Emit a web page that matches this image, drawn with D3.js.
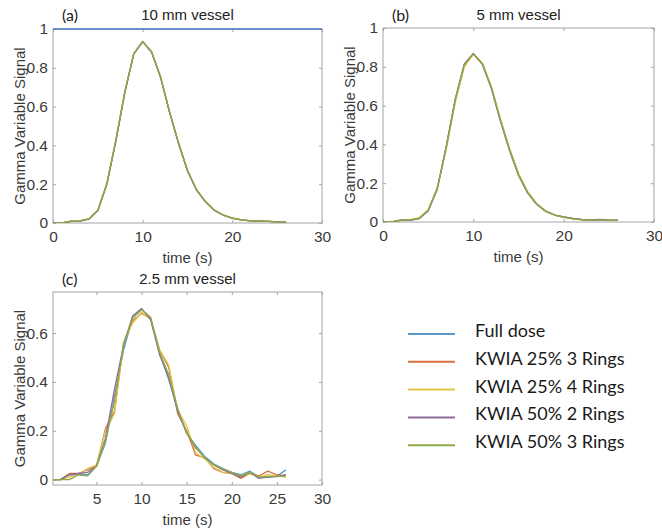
<!DOCTYPE html>
<html>
<head>
<meta charset="utf-8">
<script src="https://cdn.jsdelivr.net/npm/d3@7"></script>
<style>
  body { margin: 0; background: #fff; }
  svg { display: block; }
</style>
</head>
<body>
<div id="chart"></div>
<script>
// Gamma variate curves for three vessel sizes, five reconstructions each

const time = [0,1,2,3,4,5,6,7,8,9,10,11,12,13,14,15,16,17,18,19,20,21,22,23,24,25,26];

const seriesNames = ["Full dose", "KWIA 25% 3 Rings", "KWIA 25% 4 Rings", "KWIA 50% 2 Rings", "KWIA 50% 3 Rings"];
const seriesColors = ["#5a9bc9", "#d8723c", "#e4c346", "#8a6b9c", "#8bab48"];

// (a) 10 mm vessel
const fullA  = [0,0,0.008,0.010,0.020,0.063,0.198,0.420,0.672,0.872,0.936,0.880,0.750,0.572,0.410,0.270,0.170,0.110,0.065,0.040,0.025,0.016,0.011,0.009,0.008,0.006,0.005];
const k25r3A = [0,0,0.009,0.011,0.021,0.064,0.200,0.422,0.670,0.870,0.934,0.881,0.752,0.570,0.412,0.268,0.171,0.109,0.066,0.041,0.024,0.016,0.012,0.010,0.008,0.006,0.005];
const k25r4A = [0,0,0.010,0.012,0.022,0.066,0.204,0.428,0.676,0.874,0.935,0.882,0.754,0.575,0.414,0.272,0.173,0.111,0.066,0.041,0.026,0.017,0.012,0.010,0.009,0.007,0.006];
const k50r2A = [0,0,0.008,0.010,0.020,0.064,0.199,0.421,0.671,0.871,0.935,0.880,0.751,0.571,0.411,0.269,0.170,0.110,0.065,0.040,0.025,0.016,0.011,0.009,0.008,0.006,0.005];
const k50r3A = [0,0,0.009,0.011,0.021,0.065,0.202,0.424,0.673,0.872,0.936,0.881,0.752,0.573,0.412,0.271,0.172,0.110,0.066,0.040,0.025,0.016,0.011,0.010,0.008,0.006,0.005];

// (b) 5 mm vessel
const fullB  = [0,0,0.010,0.009,0.018,0.058,0.168,0.385,0.630,0.812,0.868,0.815,0.690,0.522,0.372,0.242,0.152,0.092,0.056,0.036,0.026,0.018,0.012,0.010,0.012,0.008,0.009];
const k25r3B = [0,0,0.008,0.011,0.020,0.061,0.172,0.380,0.622,0.805,0.866,0.818,0.695,0.528,0.378,0.247,0.155,0.094,0.057,0.035,0.024,0.017,0.013,0.011,0.009,0.010,0.008];
const k25r4B = [0,0,0.009,0.012,0.022,0.063,0.176,0.375,0.618,0.800,0.864,0.820,0.698,0.532,0.380,0.250,0.158,0.096,0.058,0.037,0.025,0.016,0.011,0.010,0.008,0.009,0.007];
const k50r2B = [0,0,0.010,0.010,0.017,0.057,0.170,0.390,0.635,0.815,0.869,0.812,0.688,0.520,0.370,0.240,0.150,0.091,0.055,0.036,0.026,0.018,0.012,0.011,0.013,0.009,0.009];
const k50r3B = [0,0,0.011,0.010,0.019,0.059,0.169,0.388,0.632,0.810,0.867,0.814,0.691,0.524,0.374,0.244,0.153,0.093,0.056,0.036,0.025,0.017,0.012,0.010,0.011,0.008,0.008];

// (c) 2.5 mm vessel
const fullC  = [0,0,0.020,0.020,0.020,0.055,0.150,0.340,0.530,0.660,0.700,0.660,0.520,0.410,0.290,0.190,0.140,0.095,0.065,0.045,0.030,0.020,0.035,0.010,0.010,0.015,0.040];
const k25r3C = [0,0,0.025,0.025,0.040,0.055,0.210,0.280,0.560,0.650,0.680,0.660,0.530,0.460,0.270,0.200,0.100,0.090,0.045,0.030,0.025,0.005,0.025,0.015,0.035,0.020,0.015];
const k25r4C = [0,0,0.010,0.020,0.045,0.060,0.200,0.270,0.560,0.640,0.685,0.655,0.530,0.470,0.285,0.220,0.110,0.085,0.050,0.030,0.025,0.015,0.025,0.010,0.020,0.015,0.010];
const k50r2C = [0,0,0.020,0.025,0.030,0.055,0.170,0.370,0.550,0.670,0.700,0.655,0.510,0.420,0.280,0.190,0.130,0.090,0.060,0.040,0.025,0.010,0.030,0.005,0.010,0.012,0.020];
const k50r3C = [0,0,0.000,0.020,0.015,0.055,0.160,0.320,0.550,0.660,0.695,0.665,0.520,0.430,0.290,0.190,0.135,0.090,0.060,0.045,0.030,0.015,0.030,0.010,0.012,0.014,0.014];

const xTicksAB = [0, 10, 20, 30];
const xTicksC = [5, 10, 15, 20, 25, 30];
const yTicksAB = [0, 0.2, 0.4, 0.6, 0.8, 1];
const yTicksC = [0, 0.2, 0.4, 0.6];

const panels = [
  { tag: "(a)", title: "10 mm vessel", series: [fullA, k25r3A, k25r4A, k50r2A, k50r3A],
    left: 53, right: 322, top: 29, bottom: 223, xDomain: [0, 30], yDomain: [0, 1],
    xTicks: xTicksAB, yTicks: yTicksAB, titleY: 20, topRule: true },
  { tag: "(b)", title: "5 mm vessel", series: [fullB, k25r3B, k25r4B, k50r2B, k50r3B],
    left: 383, right: 654, top: 28, bottom: 222, xDomain: [0, 30], yDomain: [0, 1],
    xTicks: xTicksAB, yTicks: yTicksAB, titleY: 20, topRule: false },
  { tag: "(c)", title: "2.5 mm vessel", series: [fullC, k25r3C, k25r4C, k50r2C, k50r3C],
    left: 53, right: 322, top: 292, bottom: 485, xDomain: [0.18, 30], yDomain: [-0.022, 0.768],
    xTicks: xTicksC, yTicks: yTicksC, titleY: 284, topRule: false }
];

const width = 662, height = 531;
const textColor = "#3a3a3a";
const boxColor = "#a4a4a4";
const sansFont = "'Liberation Sans', Arial, sans-serif";

const svg = d3.select("#chart").append("svg")
    .attr("width", width)
    .attr("height", height);

panels.forEach((p, i) => {
    const x = d3.scaleLinear().domain(p.xDomain).range([p.left, p.right]);
    const y = d3.scaleLinear().domain(p.yDomain).range([p.bottom, p.top]);
    const g = svg.append("g");

    // clip the lines to the axes box
    const clipId = "clip" + i;
    g.append("clipPath").attr("id", clipId)
      .append("rect")
        .attr("x", p.left).attr("y", p.top)
        .attr("width", p.right - p.left).attr("height", p.bottom - p.top);

    // axes: ticks point inward on all four sides
    const fmt = d => String(d);
    const bottomAxis = g.append("g")
        .attr("transform", `translate(0,${p.bottom})`)
        .call(d3.axisBottom(x).tickValues(p.xTicks).tickFormat(fmt).tickSizeInner(-3).tickSizeOuter(0).tickPadding(8));
    const leftAxis = g.append("g")
        .attr("transform", `translate(${p.left},0)`)
        .call(d3.axisLeft(y).tickValues(p.yTicks).tickFormat(fmt).tickSizeInner(-3).tickSizeOuter(0).tickPadding(5));
    const topAxis = g.append("g")
        .attr("transform", `translate(0,${p.top})`)
        .call(d3.axisTop(x).tickValues(p.xTicks).tickFormat("").tickSizeInner(-3).tickSizeOuter(0));
    const rightAxis = g.append("g")
        .attr("transform", `translate(${p.right},0)`)
        .call(d3.axisRight(y).tickValues(p.yTicks).tickFormat("").tickSizeInner(-3).tickSizeOuter(0));

    [bottomAxis, leftAxis, topAxis, rightAxis].forEach(a => {
        a.select(".domain").remove();
        a.selectAll(".tick line").attr("stroke", boxColor);
        a.selectAll("text")
            .attr("fill", textColor)
            .style("font-family", sansFont)
            .style("font-size", "15.5px");
    });

    // box
    g.append("rect")
        .attr("x", p.left).attr("y", p.top)
        .attr("width", p.right - p.left).attr("height", p.bottom - p.top)
        .attr("fill", "none")
        .attr("stroke", boxColor)
        .attr("stroke-width", 1);

    if (p.topRule) {
        g.append("line")
            .attr("x1", x(p.xDomain[0])).attr("x2", x(p.xDomain[1]))
            .attr("y1", y(1)).attr("y2", y(1))
            .attr("stroke", "#4a78c8")
            .attr("stroke-width", 1.5);
    }

    // curves
    const line = d3.line()
        .x((d, j) => x(time[j]))
        .y(d => y(d));

    g.append("g").attr("clip-path", `url(#${clipId})`)
      .selectAll("path")
      .data(p.series)
      .enter()
      .append("path")
        .attr("d", line)
        .attr("fill", "none")
        .attr("stroke", (d, j) => seriesColors[j])
        .attr("stroke-width", 1.3)
        .attr("stroke-linejoin", "round");

    // title and panel tag
    g.append("text")
        .attr("x", (p.left + p.right) / 2)
        .attr("y", p.titleY)
        .attr("text-anchor", "middle")
        .attr("fill", "#222")
        .style("font-family", sansFont)
        .style("font-size", "15px")
        .text(p.title);

    g.append("text")
        .attr("x", p.left + 9)
        .attr("y", p.titleY + 1)
        .attr("fill", "#222")
        .style("font-family", "Lato, sans-serif")
        .style("font-size", "16px")
        .text(p.tag);

    // axis labels
    g.append("text")
        .attr("x", (p.left + p.right) / 2)
        .attr("y", p.bottom + 40)
        .attr("text-anchor", "middle")
        .attr("fill", textColor)
        .style("font-family", sansFont)
        .style("font-size", "15px")
        .text("time (s)");

    g.append("text")
        .attr("transform", `translate(${p.left - 28},${(p.top + p.bottom) / 2}) rotate(-90)`)
        .attr("text-anchor", "middle")
        .attr("fill", textColor)
        .style("font-family", sansFont)
        .style("font-size", "15px")
        .text("Gamma Variable Signal");
});

// legend
const legend = svg.append("g").attr("transform", "translate(408,334)");
const legendStep = 27.8;

seriesNames.forEach((name, i) => {
    legend.append("line")
        .attr("x1", 0).attr("x2", 47)
        .attr("y1", i * legendStep).attr("y2", i * legendStep)
        .attr("stroke", seriesColors[i])
        .attr("stroke-width", 2);
    legend.append("text")
        .attr("x", 67)
        .attr("y", i * legendStep + 3)
        .attr("fill", "#1a1a1a")
        .style("font-family", "Lato, sans-serif")
        .style("font-size", "18px")
        .text(name);
});
</script>
</body>
</html>
